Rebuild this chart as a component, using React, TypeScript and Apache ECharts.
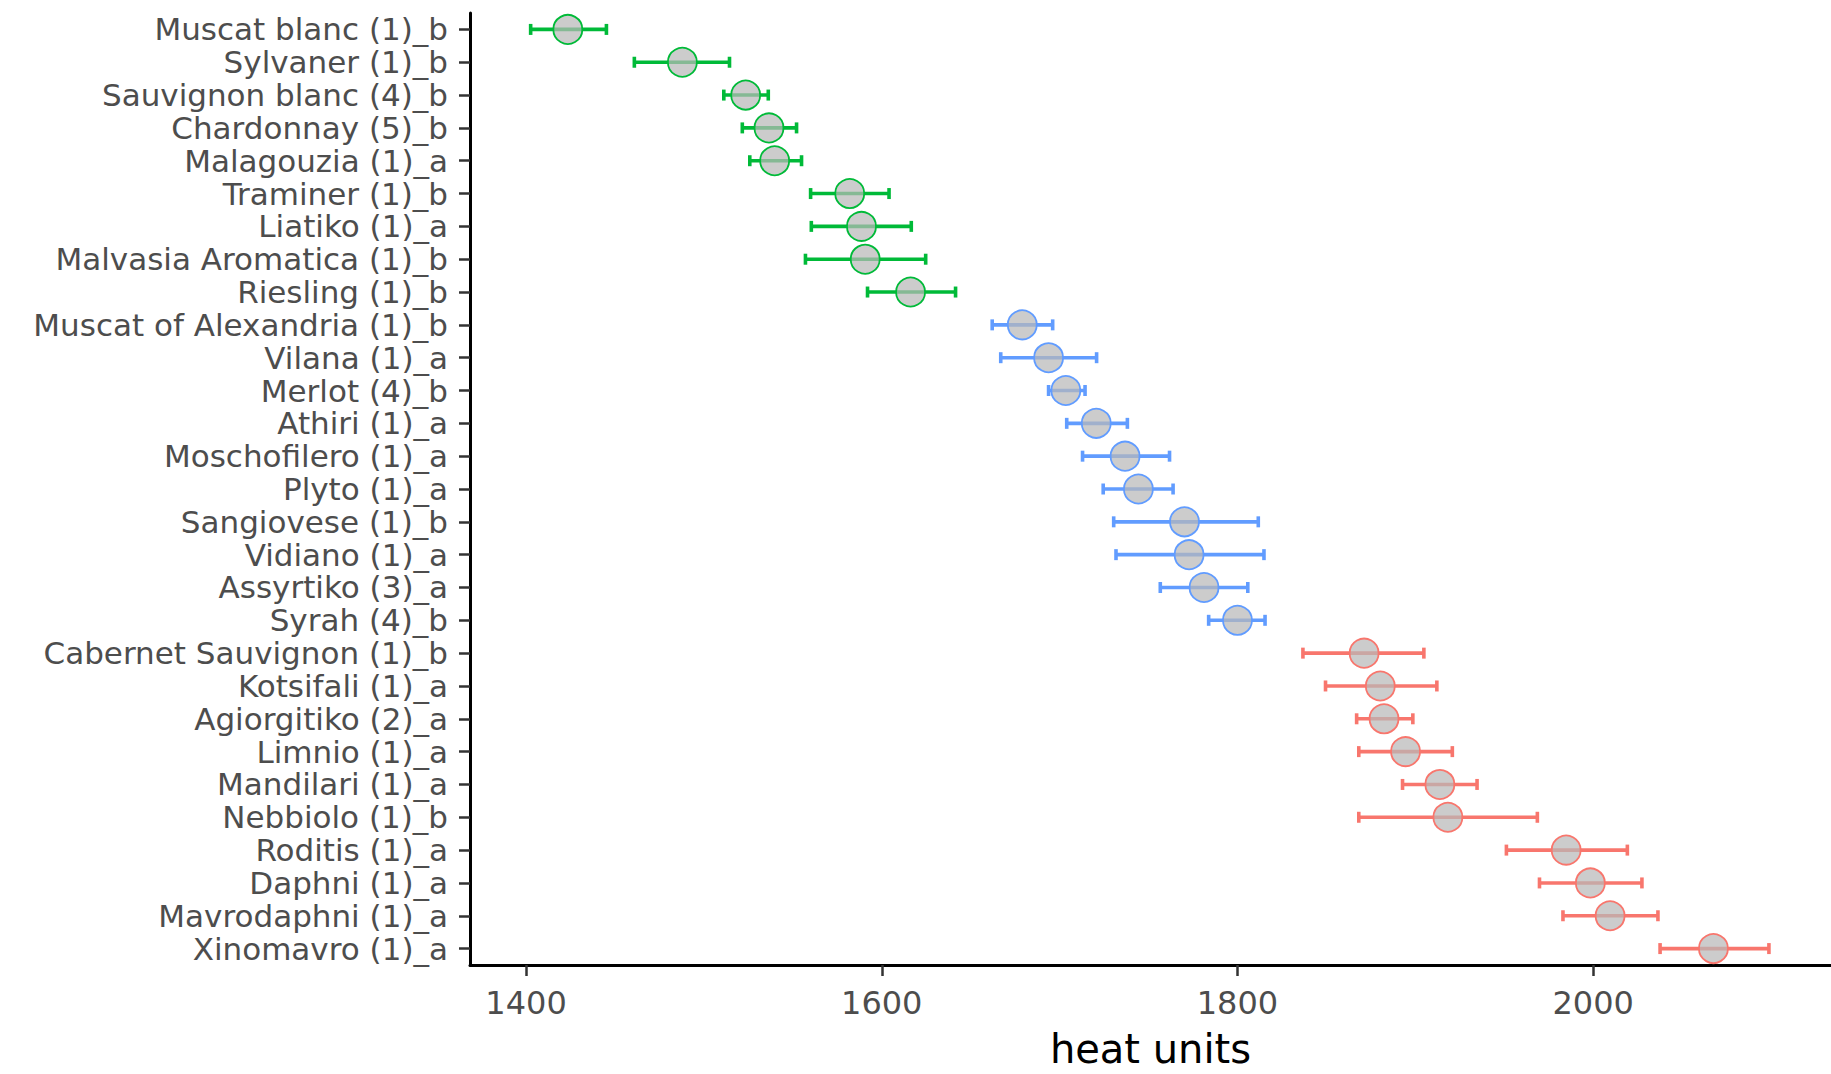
import React, { useEffect, useRef } from "react";
import * as echarts from "echarts";

const categories = [
  "Muscat blanc (1)_b",
  "Sylvaner (1)_b",
  "Sauvignon blanc (4)_b",
  "Chardonnay (5)_b",
  "Malagouzia (1)_a",
  "Traminer (1)_b",
  "Liatiko (1)_a",
  "Malvasia Aromatica (1)_b",
  "Riesling (1)_b",
  "Muscat of Alexandria (1)_b",
  "Vilana (1)_a",
  "Merlot (4)_b",
  "Athiri (1)_a",
  "Moschofilero (1)_a",
  "Plyto (1)_a",
  "Sangiovese (1)_b",
  "Vidiano (1)_a",
  "Assyrtiko (3)_a",
  "Syrah (4)_b",
  "Cabernet Sauvignon (1)_b",
  "Kotsifali (1)_a",
  "Agiorgitiko (2)_a",
  "Limnio (1)_a",
  "Mandilari (1)_a",
  "Nebbiolo (1)_b",
  "Roditis (1)_a",
  "Daphni (1)_a",
  "Mavrodaphni (1)_a",
  "Xinomavro (1)_a",
];

const means = [
  1423.5, 1487.9, 1523.5, 1536.6, 1539.8, 1582.0, 1588.6, 1590.7, 1616.2,
  1679.0, 1693.8, 1703.5, 1720.6, 1736.8, 1744.3, 1770.2, 1772.8, 1781.2, 1800.0,
  1871.2, 1880.3, 1882.4, 1894.5, 1913.8, 1918.3, 1984.8, 1998.4, 2009.5, 2067.6,
];

const lower = [
  1402.6, 1460.9, 1511.2, 1521.6, 1525.8, 1560.0, 1560.4, 1557.1, 1592.0,
  1662.1, 1666.9, 1693.8, 1704.0, 1712.9, 1724.5, 1730.4, 1731.7, 1756.6, 1783.8,
  1836.8, 1849.5, 1867.0, 1868.2, 1892.8, 1868.2, 1951.2, 1969.8, 1983.0, 2037.6,
];

const upper = [
  1445.2, 1514.4, 1536.2, 1552.1, 1554.9, 1604.1, 1616.6, 1624.7, 1641.5,
  1696.1, 1720.8, 1714.3, 1738.1, 1761.8, 1763.8, 1811.7, 1814.9, 1805.8, 1815.5,
  1904.8, 1912.1, 1898.6, 1920.8, 1934.7, 1968.6, 2019.2, 2027.4, 2036.4, 2098.8,
];

// cluster of each cultivar: 0 = green, 1 = blue, 2 = red
const groups = [
  0, 0, 0, 0, 0, 0, 0, 0, 0,
  1, 1, 1, 1, 1, 1, 1, 1, 1, 1,
  2, 2, 2, 2, 2, 2, 2, 2, 2, 2,
];

const xTicks = [1400, 1600, 1800, 2000];

const groupColors = ["#00BA38", "#619CFF", "#F8766D"];

const FONT = "DejaVu Sans";

export default function App() {
  const ref = useRef<HTMLDivElement>(null);

  useEffect(() => {
    if (!ref.current) return;
    const chart = echarts.init(ref.current, null, { renderer: "svg" });

    const errData = categories.map((_, i) => [lower[i], upper[i], i]);
    const pointData = categories.map((_, i) => ({
      value: [means[i], i],
      itemStyle: {
        color: "rgba(185,185,185,0.72)",
        borderColor: groupColors[groups[i]],
        borderWidth: 1.8,
        opacity: 1,
      },
    }));

    chart.setOption({
      animation: false,
      backgroundColor: "#ffffff",
      grid: { left: 470, right: -20, top: 13, bottom: 109, containLabel: false },
      xAxis: {
        type: "value",
        min: 1368.5,
        max: 2133.7,
        name: "heat units",
        nameLocation: "middle",
        nameGap: 64,
        nameTextStyle: { fontFamily: FONT, fontSize: 40, color: "#000000" },
        axisLine: { show: true, lineStyle: { color: "#000000", width: 3 } },
        axisTick: {
          show: true,
          length: 11,
          customValues: xTicks,
          lineStyle: { color: "#333333", width: 2.5 },
        },
        axisLabel: {
          customValues: xTicks,
          formatter: (v: number) => String(v),
          fontFamily: FONT,
          fontSize: 32,
          color: "#4D4D4D",
          margin: 22,
        },
        splitLine: { show: false },
      },
      yAxis: {
        type: "category",
        data: categories,
        inverse: true,
        axisLine: { show: true, lineStyle: { color: "#000000", width: 3 } },
        axisTick: {
          show: true,
          alignWithLabel: true,
          length: 11,
          lineStyle: { color: "#333333", width: 2.5 },
        },
        axisLabel: {
          fontFamily: FONT,
          fontSize: 31,
          lineHeight: 30,
          color: "#4D4D4D",
          margin: 22,
          interval: 0,
        },
        splitLine: { show: false },
      },
      series: [
        {
          type: "custom",
          z: 2,
          encode: { x: [0, 1], y: 2 },
          data: errData,
          renderItem: (params: any, api: any) => {
            const lo = api.coord([api.value(0), api.value(2)]);
            const hi = api.coord([api.value(1), api.value(2)]);
            const color = groupColors[groups[params.dataIndex]];
            const h = 5.5;
            const style = { stroke: color, lineWidth: 3.6 };
            return {
              type: "group",
              children: [
                { type: "line", shape: { x1: lo[0], y1: lo[1], x2: hi[0], y2: hi[1] }, style },
                { type: "line", shape: { x1: lo[0], y1: lo[1] - h, x2: lo[0], y2: lo[1] + h }, style },
                { type: "line", shape: { x1: hi[0], y1: hi[1] - h, x2: hi[0], y2: hi[1] + h }, style },
              ],
            };
          },
        },
        {
          type: "scatter",
          z: 3,
          symbol: "circle",
          symbolSize: 29,
          data: pointData,
        },
      ],
    });

    return () => chart.dispose();
  }, []);

  return (
    <div
      ref={ref}
      style={{ position: "fixed", left: 0, top: 0, width: 1831, height: 1074, background: "#fff" }}
    />
  );
}
